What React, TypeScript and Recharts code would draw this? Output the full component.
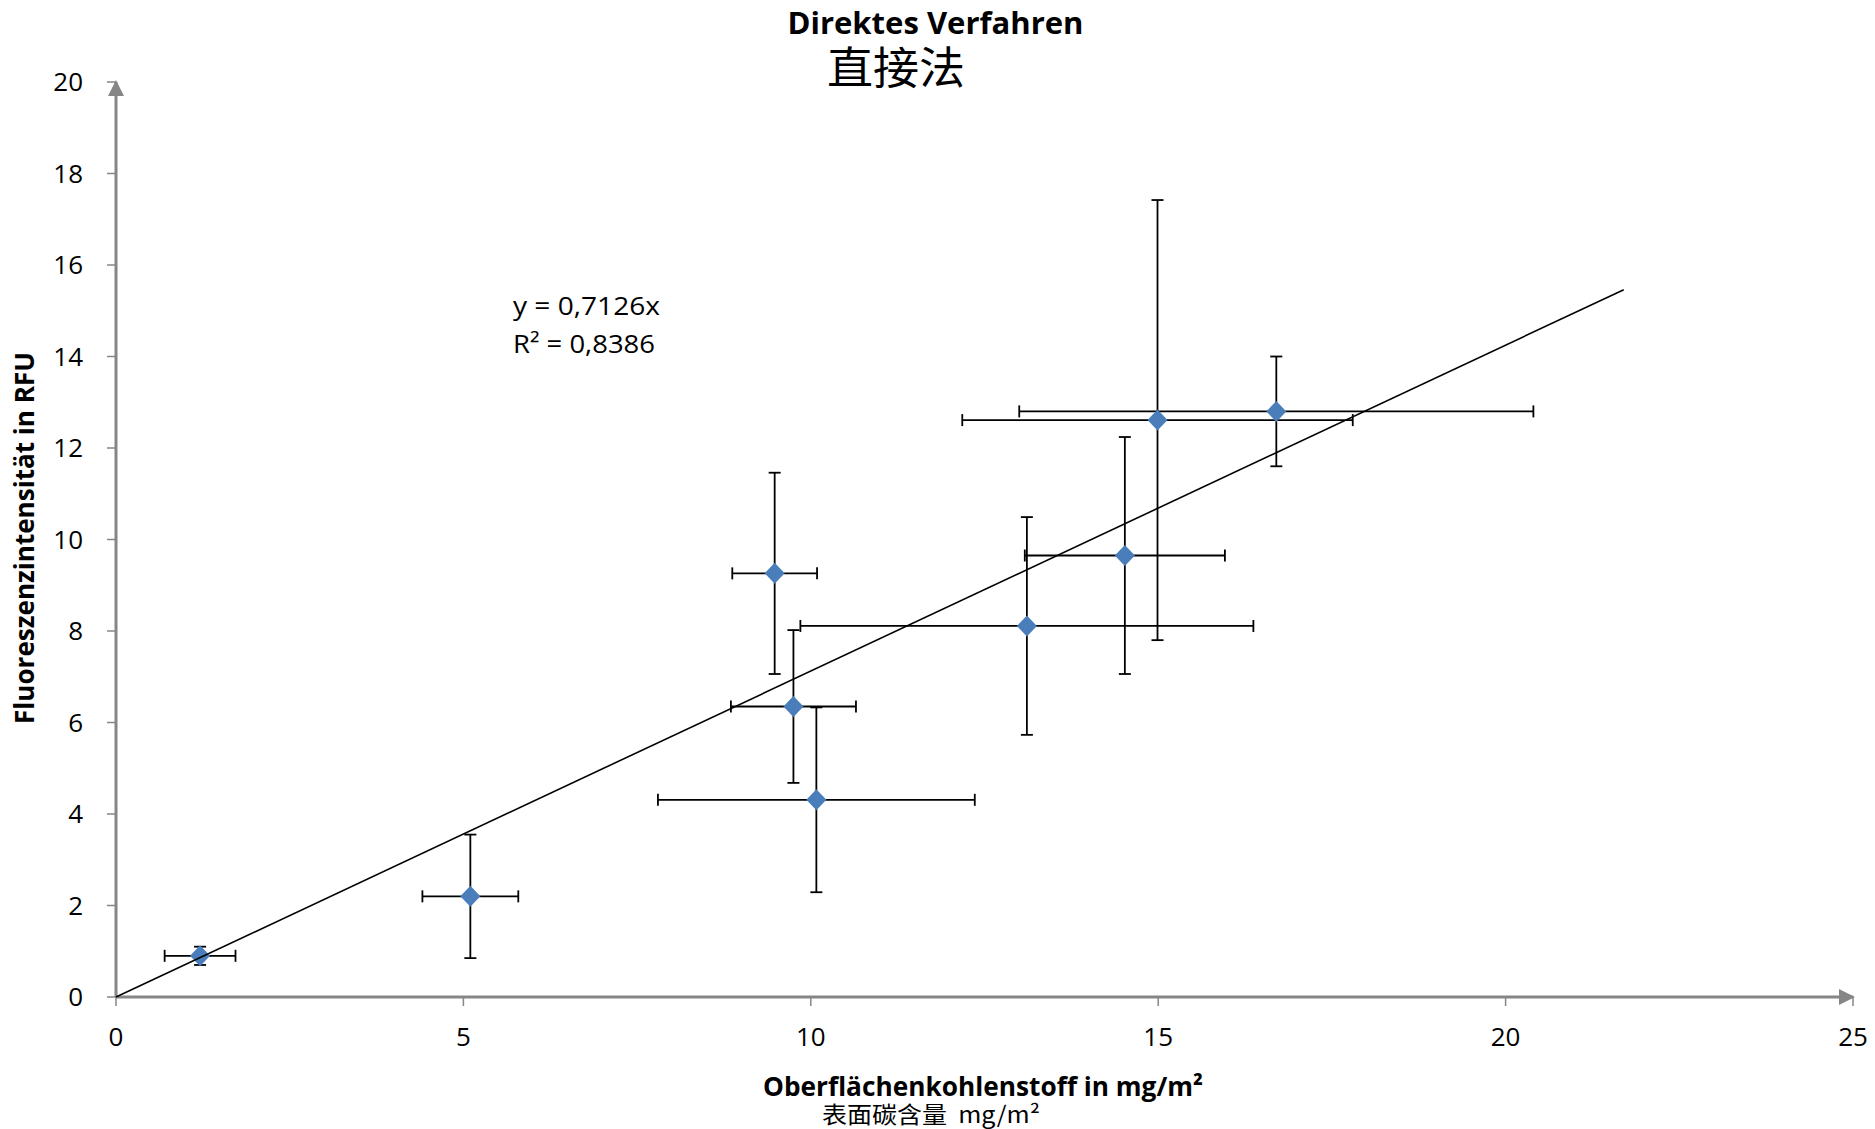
import React from 'react';
import { ScatterChart, Scatter, XAxis, YAxis, ErrorBar } from 'recharts';

// Measured points (Oberflächenkohlenstoff in mg/m², Fluoreszenzintensität in RFU)
const xValues = [1.21, 5.10, 9.48, 9.75, 10.08, 13.11, 14.52, 14.99, 16.70];
const yValues = [0.90, 2.20, 9.26, 6.35, 4.31, 8.11, 9.65, 12.61, 12.80];
const xErrors = [0.51, 0.69, 0.61, 0.90, 2.28, 3.26, 1.44, 2.81, 3.70];
const yErrors = [0.20, 1.35, 2.20, 1.67, 2.02, 2.38, 2.59, 4.81, 1.20];

// Linear trend line y = 0,7126x (endpoints as drawn)
const trendX = [0, 21.7];
const trendY = [0, 15.46];

const xTicks = [0, 5, 10, 15, 20, 25];
const yTicks = [0, 2, 4, 6, 8, 10, 12, 14, 16, 18, 20];

const titleDe = 'Direktes Verfahren';
const titleZh = '直接法';
const xLabelDe = 'Oberflächenkohlenstoff in mg/m²';
const xLabelZh = '表面碳含量  mg/m²';
const yLabelDe = 'Fluoreszenzintensität in RFU';
const equationLine = 'y = 0,7126x';
const r2Line = 'R² = 0,8386';

const points = xValues.map((x, i) => ({ x, y: yValues[i], ex: xErrors[i], ey: yErrors[i] }));
const trend = trendX.map((x, i) => ({ x, y: trendY[i] }));

const AXIS = '#868686';
const MARKER = '#4a7ebb';
const FONT = '"Open Sans", "DejaVu Sans", sans-serif';
const CJK = '"Noto Sans CJK SC", "Noto Sans CJK JP", sans-serif';

const Diamond = (props: any) => {
  const { cx, cy } = props;
  if (cx == null || cy == null) return <g />;
  const w = 10;
  const h = 10.5;
  return (
    <polygon
      points={`${cx},${cy - h} ${cx + w},${cy} ${cx},${cy + h} ${cx - w},${cy}`}
      fill={MARKER}
    />
  );
};

const NoShape = () => <g />;

export default function App() {
  return (
    <div style={{ position: 'absolute', left: 0, top: 0, width: 1875, height: 1129, background: '#fff' }}>
      <svg width={0} height={0} style={{ position: 'absolute' }}>
        <defs>
          <marker
            id="arrowHead"
            viewBox="0 0 16 16"
            markerWidth={16}
            markerHeight={16}
            refX={14}
            refY={8}
            markerUnits="userSpaceOnUse"
            orient="auto-start-reverse"
          >
            <path d="M0,0 L16,8 L0,16 Z" fill={AXIS} />
          </marker>
        </defs>
      </svg>
      <ScatterChart
        width={1875}
        height={1129}
        margin={{ top: 82, right: 22, bottom: 0, left: 0 }}
      >
        <XAxis
          type="number"
          dataKey="x"
          domain={[0, 25]}
          ticks={xTicks}
          interval={0}
          height={132}
          tickSize={9}
          tickMargin={22}
          axisLine={{ stroke: AXIS, strokeWidth: 3, markerEnd: 'url(#arrowHead)' }}
          tickLine={{ stroke: AXIS, strokeWidth: 1.5 }}
          tick={{ fill: '#000', fontSize: 26, fontFamily: FONT }}
        />
        <YAxis
          type="number"
          dataKey="y"
          domain={[0, 20]}
          ticks={yTicks}
          interval={0}
          width={116}
          tickSize={9}
          tickMargin={24}
          axisLine={{ stroke: AXIS, strokeWidth: 3, markerStart: 'url(#arrowHead)' }}
          tickLine={{ stroke: AXIS, strokeWidth: 1.5 }}
          tick={{ fill: '#000', fontSize: 26, fontFamily: FONT }}
        />
        <Scatter data={points} shape={Diamond} isAnimationActive={false}>
          <ErrorBar dataKey="ex" direction="x" width={6} stroke="#000" strokeWidth={1.8} />
          <ErrorBar dataKey="ey" direction="y" width={6} stroke="#000" strokeWidth={1.8} />
        </Scatter>
        <Scatter
          data={trend}
          shape={NoShape}
          line={{ stroke: '#000', strokeWidth: 1.6 }}
          isAnimationActive={false}
        />
      </ScatterChart>
      <svg
        width={1875}
        height={1129}
        style={{ position: 'absolute', left: 0, top: 0, pointerEvents: 'none' }}
      >
        <text x={935.5} y={34} textAnchor="middle" fontFamily={FONT} fontWeight={700} fontSize={31}
          textLength={296} lengthAdjust="spacingAndGlyphs" fill="#000">{titleDe}</text>
        <text x={896} y={65} textAnchor="middle" dominantBaseline="central" fontFamily={CJK} fontSize={44}
          textLength={138} lengthAdjust="spacingAndGlyphs" fill="#000">{titleZh}</text>
        <text x={513} y={315} fontFamily={FONT} fontSize={25}
          textLength={147} lengthAdjust="spacingAndGlyphs" fill="#000">{equationLine}</text>
        <text x={513} y={353} fontFamily={FONT} fontSize={25}
          textLength={142} lengthAdjust="spacingAndGlyphs" fill="#000">{r2Line}</text>
        <text x={983} y={1096} textAnchor="middle" fontFamily={FONT} fontWeight={700} fontSize={27}
          textLength={440} lengthAdjust="spacingAndGlyphs" fill="#000">{xLabelDe}</text>
        <text x={822} y={1123} fontFamily={CJK} fontSize={23} style={{ whiteSpace: 'pre' }}
          textLength={218} lengthAdjust="spacingAndGlyphs" fill="#000">{xLabelZh}</text>
        <text transform="translate(34,538) rotate(-90)" x={0} y={0} textAnchor="middle" fontFamily={FONT}
          fontWeight={700} fontSize={26} textLength={372} lengthAdjust="spacingAndGlyphs" fill="#000">{yLabelDe}</text>
      </svg>
    </div>
  );
}
